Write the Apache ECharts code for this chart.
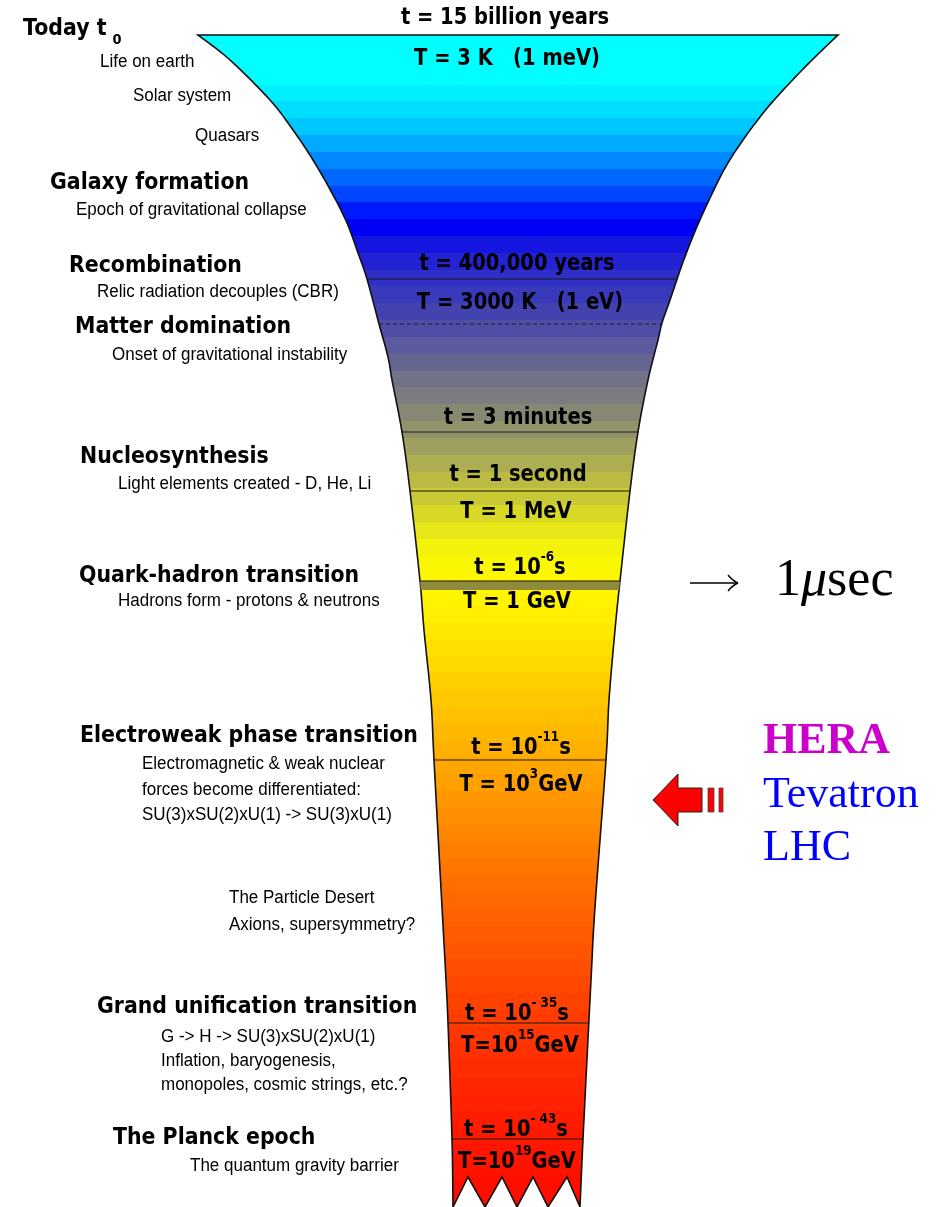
<!DOCTYPE html>
<html>
<head>
<meta charset="utf-8">
<script src="https://cdn.jsdelivr.net/npm/echarts@6/dist/echarts.min.js"></script>
<style>
  html, body { margin: 0; padding: 0; background: #fff; }
  #chart { width: 941px; height: 1207px; }
</style>
</head>
<body>
<div id="chart"></div>
<script>
// funnel outline (x of each edge at a given y)
const leftEdgeY  = [35, 60, 100, 130, 160, 193, 223, 253, 279, 324, 357, 380, 432, 491, 581, 630, 700, 760, 907, 980, 1023, 1139, 1207];
const leftEdgeX  = [198, 230, 270, 293, 313, 332, 347, 358, 367, 379, 388, 392, 402, 410, 420, 424, 431, 434, 442, 446, 448, 452, 453];
const rightEdgeY = [35, 60, 88, 112, 140, 168, 198, 229, 262, 300, 323, 340, 380, 432, 491, 581, 630, 700, 760, 907, 980, 1139, 1207];
const rightEdgeX = [838, 812, 785, 764, 743, 725, 710, 696, 683, 670, 662, 658, 648, 638, 630, 620, 615, 609, 606, 595, 591, 583, 580];
const zigX = [468, 485, 502, 517, 533, 548, 567];
const zigY = [1177, 1207, 1177, 1207, 1177, 1207, 1177];

// colour of the funnel going down in time (drawn as ~17px bands)
const bandY = [35, 85, 95, 120, 145, 170, 195, 215, 228, 245, 265, 285, 305, 325, 345, 365, 385, 400, 418, 440, 460, 480, 500, 520, 540, 560, 600, 640, 700, 760, 820, 880, 940, 1000, 1060, 1120, 1207];
const bandColor = ['#00ffff', '#00ffff', '#00eeff', '#00d4ff', '#00aaff', '#0077ff', '#0044ff', '#0011ff', '#0000f5', '#1515e0',
  '#2626d0', '#3333c4', '#3e3eb5', '#4b4ba8', '#5a5a9e', '#686890', '#747485', '#7e7e7e', '#8a8a70', '#999966',
  '#aaaa55', '#bbbb44', '#cccc33', '#dddd22', '#eeee11', '#f8f800', '#fff500', '#ffe400', '#ffc800', '#ffaa00',
  '#ff8c00', '#ff7000', '#ff5800', '#ff4200', '#ff2e00', '#ff1c00', '#ff0a00'];
const bandStep = 16.8;

// epoch boundaries
const solidLineY = [279, 432, 491, 581, 760, 1023, 1139];
const dashedLineY = [324];
const hadronBand = [581, 590];

// epochs (left column)
const titleText = ['Galaxy formation', 'Recombination', 'Matter domination', 'Nucleosynthesis',
  'Quark-hadron transition', 'Electroweak phase transition', 'Grand unification transition', 'The Planck epoch'];
const titleX = [50, 69, 75, 80, 79, 80, 97, 113];
const titleY = [183, 266, 327, 457, 576, 736, 1007, 1138];

const noteText = ['Life on earth', 'Solar system', 'Quasars', 'Epoch of gravitational collapse',
  'Relic radiation decouples (CBR)', 'Onset of gravitational instability',
  'Light elements created - D, He, Li', 'Hadrons form - protons & neutrons',
  'Electromagnetic & weak nuclear', 'forces become differentiated:', 'SU(3)xSU(2)xU(1) -> SU(3)xU(1)',
  'The Particle Desert', 'Axions, supersymmetry?',
  'G -> H -> SU(3)xSU(2)xU(1)', 'Inflation, baryogenesis,', 'monopoles, cosmic strings, etc.?',
  'The quantum gravity barrier'];
const noteX = [100, 133, 195, 76, 97, 112, 118, 118, 142, 142, 142, 229, 229, 161, 161, 161, 190];
const noteY = [62, 96, 136, 210, 292, 355, 484, 601, 764, 790, 815, 898, 925, 1037, 1061, 1085, 1166];

// time / temperature marks inside the funnel
const markText = ['t = 15 billion years', 'T = 3 K   (1 meV)', 't = 400,000 years', 'T = 3000 K   (1 eV)',
  't = 3 minutes', 't = 1 second', 'T = 1 MeV', 't = 10{sup|-6}s', 'T = 1 GeV',
  't = 10{sup|-11}s', 'T = 10{sup|3}GeV', 't = 10{sup|- 35}s', 'T=10{sup|15}GeV', 't = 10{sup|- 43}s', 'T=10{sup|19}GeV'];
const markX = [505, 507, 517, 520, 518, 518, 516, 520, 517, 521, 521, 517, 520, 516, 517];
const markY = [18, 59, 264, 303, 418, 475, 512, 568, 602, 748, 785, 1014, 1046, 1130, 1162];

// colliders
const colliderText = ['HERA', 'Tevatron', 'LHC'];
const colliderY = [742, 795, 848];

// block arrow pointing at the funnel
const arrowX = [653, 678, 678, 702, 702, 678, 678];
const arrowY = [800, 774, 788, 788, 812, 812, 826];

function edgeAt(ys, xs, y) {
  for (let i = 1; i < ys.length; i++) {
    if (y <= ys[i]) {
      const t = (y - ys[i - 1]) / (ys[i] - ys[i - 1]);
      return xs[i - 1] + t * (xs[i] - xs[i - 1]);
    }
  }
  return xs[xs.length - 1];
}

// smooth an edge with a Catmull-Rom pass so the outline curves like the original
function smoothEdge(ys, xs) {
  const out = [];
  const n = ys.length;
  for (let i = 0; i < n - 1; i++) {
    const p0 = [xs[Math.max(i - 1, 0)], ys[Math.max(i - 1, 0)]];
    const p1 = [xs[i], ys[i]];
    const p2 = [xs[i + 1], ys[i + 1]];
    const p3 = [xs[Math.min(i + 2, n - 1)], ys[Math.min(i + 2, n - 1)]];
    for (let s = 0; s < 8; s++) {
      const t = s / 8, t2 = t * t, t3 = t2 * t;
      const f = k => 0.5 * (2 * p1[k] + (-p0[k] + p2[k]) * t + (2 * p0[k] - 5 * p1[k] + 4 * p2[k] - p3[k]) * t2 + (-p0[k] + 3 * p1[k] - 3 * p2[k] + p3[k]) * t3);
      out.push([f(0), f(1)]);
    }
  }
  out.push([xs[n - 1], ys[n - 1]]);
  return out;
}

function mixColor(y) {
  let i = 1;
  while (i < bandY.length - 1 && y > bandY[i]) i++;
  const t = Math.min(1, Math.max(0, (y - bandY[i - 1]) / (bandY[i] - bandY[i - 1])));
  const a = echarts.color.parse(bandColor[i - 1]), b = echarts.color.parse(bandColor[i]);
  return 'rgb(' + [0, 1, 2].map(k => Math.round(a[k] + (b[k] - a[k]) * t)).join(',') + ')';
}

function textSeries(texts, xs, ys, style, scaleY) {
  return {
    type: 'custom',
    coordinateSystem: 'cartesian2d',
    silent: true,
    z: 10,
    data: xs.map((x, i) => [x, ys[i]]),
    renderItem: (params, api) => {
      const p = api.coord([api.value(0), api.value(1)]);
      return {
        type: 'text',
        x: p[0],
        y: p[1],
        scaleY: scaleY || 1,
        style: Object.assign({ text: texts[params.dataIndex], x: 0, y: 0 }, style)
      };
    }
  };
}

function lineSeries(ys, dash) {
  return {
    type: 'custom',
    coordinateSystem: 'cartesian2d',
    silent: true,
    z: 5,
    data: ys.map(y => [0, y]),
    renderItem: (params, api) => {
      const y = api.value(1);
      const a = api.coord([edgeAt(leftEdgeY, leftEdgeX, y), y]);
      const b = api.coord([edgeAt(rightEdgeY, rightEdgeX, y), y]);
      return {
        type: 'line',
        shape: { x1: a[0], y1: a[1], x2: b[0], y2: b[1] },
        style: { stroke: '#1a1a1a', lineWidth: 1.2, lineDash: dash ? [4, 3] : null }
      };
    }
  };
}

const chart = echarts.init(document.getElementById('chart'));

const boldFont = { fontFamily: 'DejaVu Sans', fontWeight: 'bold', fill: '#000' };

chart.setOption({
  animation: false,
  grid: { left: 0, right: 0, top: 0, bottom: 0 },
  xAxis: { type: 'value', min: 0, max: 941, show: false },
  yAxis: { type: 'value', min: 0, max: 1207, inverse: true, show: false },
  series: [
    // funnel body
    {
      type: 'custom',
      coordinateSystem: 'cartesian2d',
      silent: true,
      z: 2,
      data: [[0, 0]],
      renderItem: (params, api) => {
        const pts = [];
        smoothEdge(leftEdgeY, leftEdgeX).forEach(p => pts.push(api.coord(p)));
        zigX.forEach((x, i) => pts.push(api.coord([x, zigY[i]])));
        smoothEdge(rightEdgeY, rightEdgeX).reverse().forEach(p => pts.push(api.coord(p)));
        const y0 = bandY[0], y1 = bandY[bandY.length - 1];
        const top = api.coord([0, y0])[1];
        const bot = api.coord([0, y1])[1];
        const off = y => Math.min(1, (api.coord([0, y])[1] - top) / (bot - top));
        const stops = [];
        for (let y = y0; y < y1; y += bandStep) {
          const c = mixColor(y + bandStep / 2);
          stops.push({ offset: off(y), color: c });
          stops.push({ offset: off(Math.min(y + bandStep, y1)) - 0.0001, color: c });
        }
        return {
          type: 'polygon',
          shape: { points: pts },
          style: { fill: new echarts.graphic.LinearGradient(0, 0, 0, 1, stops), stroke: '#111', lineWidth: 1.6 }
        };
      }
    },
    // dark band at the quark-hadron transition
    {
      type: 'custom',
      coordinateSystem: 'cartesian2d',
      silent: true,
      z: 4,
      data: [[0, 0]],
      renderItem: (params, api) => {
        const y0 = hadronBand[0], y1 = hadronBand[1];
        const pts = [
          api.coord([edgeAt(leftEdgeY, leftEdgeX, y0), y0]),
          api.coord([edgeAt(rightEdgeY, rightEdgeX, y0), y0]),
          api.coord([edgeAt(rightEdgeY, rightEdgeX, y1), y1]),
          api.coord([edgeAt(leftEdgeY, leftEdgeX, y1), y1])
        ];
        return { type: 'polygon', shape: { points: pts }, style: { fill: '#8e8c3c' } };
      }
    },
    lineSeries(solidLineY, false),
    lineSeries(dashedLineY, true),
    // red arrow and its two tail bars
    {
      type: 'custom',
      coordinateSystem: 'cartesian2d',
      silent: true,
      z: 6,
      data: [[0, 0]],
      renderItem: (params, api) => {
        const pts = arrowX.map((x, i) => api.coord([x, arrowY[i]]));
        const bar = (x0, x1) => {
          const a = api.coord([x0, 788]), b = api.coord([x1, 812]);
          return { type: 'rect', shape: { x: a[0], y: a[1], width: b[0] - a[0], height: b[1] - a[1] },
            style: { fill: '#ff0000', stroke: '#444', lineWidth: 0.8 } };
        };
        return {
          type: 'group',
          children: [
            { type: 'polygon', shape: { points: pts }, style: { fill: '#ff0000', stroke: '#222', lineWidth: 1 } },
            bar(708, 714),
            bar(719, 723)
          ]
        };
      }
    },
    // thin arrow to 1 microsecond
    {
      type: 'custom',
      coordinateSystem: 'cartesian2d',
      silent: true,
      z: 6,
      data: [[0, 0]],
      renderItem: (params, api) => {
        const a = api.coord([690, 583]), b = api.coord([738, 583]);
        return {
          type: 'group',
          children: [
            { type: 'line', shape: { x1: a[0], y1: a[1], x2: b[0], y2: b[1] }, style: { stroke: '#000', lineWidth: 1.6 } },
            { type: 'bezierCurve', shape: { x1: b[0], y1: b[1], x2: b[0] - 10, y2: b[1] - 8, cpx1: b[0] - 5, cpy1: b[1] - 2 },
              style: { stroke: '#000', lineWidth: 1.4, fill: null } },
            { type: 'bezierCurve', shape: { x1: b[0], y1: b[1], x2: b[0] - 10, y2: b[1] + 8, cpx1: b[0] - 5, cpy1: b[1] + 2 },
              style: { stroke: '#000', lineWidth: 1.4, fill: null } }
          ]
        };
      }
    },
    textSeries(titleText, titleX, titleY,
      Object.assign({ fontSize: 20.5, align: 'left', verticalAlign: 'middle' }, boldFont), 1.08),
    textSeries(noteText, noteX, noteY,
      { fontFamily: 'Liberation Sans', fontSize: 17, fill: '#000', align: 'left', verticalAlign: 'middle' }, 1.05),
    textSeries(markText, markX, markY,
      Object.assign({
        fontSize: 19.5, align: 'center', verticalAlign: 'middle', lineHeight: 30,
        rich: { sup: { fontFamily: 'DejaVu Sans', fontWeight: 'bold', fontSize: 12, verticalAlign: 'top', lineHeight: 14 } }
      }, boldFont), 1.15),
    textSeries(['Today t{sub|0}'], [23], [29],
      Object.assign({
        fontSize: 20.5, align: 'left', verticalAlign: 'middle', lineHeight: 34,
        rich: { sub: { fontFamily: 'DejaVu Sans', fontWeight: 'bold', fontSize: 13, verticalAlign: 'bottom', lineHeight: 14, padding: [0, 0, 0, 6] } }
      }, boldFont), 1.08),
    textSeries(['{n|1}{m|\u03bc}{n|sec}'], [775], [581],
      {
        align: 'left', verticalAlign: 'middle',
        rich: {
          n: { fontFamily: 'Liberation Serif', fontSize: 52, fill: '#000' },
          m: { fontFamily: 'Liberation Serif', fontStyle: 'italic', fontSize: 52, fill: '#000' }
        }
      }, 1),
    textSeries(colliderText.slice(0, 1), [763], colliderY.slice(0, 1),
      { fontFamily: 'Liberation Serif', fontWeight: 'bold', fontSize: 44, fill: '#cc00cc', align: 'left', verticalAlign: 'middle' }, 1),
    textSeries(colliderText.slice(1), [763, 763], colliderY.slice(1),
      { fontFamily: 'Liberation Serif', fontSize: 44, fill: '#0000ff', align: 'left', verticalAlign: 'middle' }, 1)
  ]
});
</script>
</body>
</html>
